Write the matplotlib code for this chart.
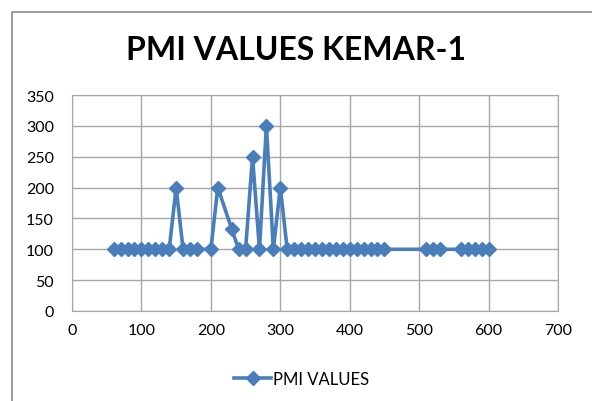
import matplotlib.pyplot as plt
import matplotlib.patches as mpatches

# data
x_vals = [60, 70, 80, 90, 100, 110, 120, 130, 140, 150,
          160, 170, 180, 200, 210, 230, 240, 250, 260, 270,
          280, 290, 300, 310, 320, 330, 340, 350, 360, 370,
          380, 390, 400, 410, 420, 430, 440, 450, 510, 520,
          530, 560, 570, 580, 590, 600]
pmi_vals = [100, 100, 100, 100, 100, 100, 100, 100, 100, 200,
            100, 100, 100, 100, 200, 133, 100, 100, 250, 100,
            300, 100, 200, 100, 100, 100, 100, 100, 100, 100,
            100, 100, 100, 100, 100, 100, 100, 100, 100, 100,
            100, 100, 100, 100, 100, 100]
x_ticks = [0, 100, 200, 300, 400, 500, 600, 700]
y_ticks = [0, 50, 100, 150, 200, 250, 300, 350]

plt.rcParams['font.family'] = ['Lato', 'DejaVu Sans']

fig = plt.figure(figsize=(5.92, 4.02), dpi=100)

# outer chart border
fig.patches.append(mpatches.Rectangle((12 / 592, -0.05), 1.0, 1 - 13 / 402 + 0.05,
                                      transform=fig.transFigure, fill=False,
                                      edgecolor='#8c8c8c', linewidth=1.2))

ax = fig.add_axes([72 / 592, 90 / 402, 486 / 592, 216 / 402])
line_color = '#4A7EBB'
ax.plot(x_vals, pmi_vals, color=line_color, linewidth=2.6, marker='D',
        markersize=7.5, label='PMI VALUES', zorder=3)

ax.set_xlim(0, 700)
ax.set_ylim(0, 350)
ax.set_xticks(x_ticks)
ax.set_yticks(y_ticks)
ax.grid(True, color='#a6a6a6', linewidth=1)
ax.set_axisbelow(True)
for s in ax.spines.values():
    s.set_color('#a6a6a6')
ax.tick_params(length=0, labelsize=11.5, pad=9)
ax.tick_params(axis='y', pad=13)

fig.text(0.5, 1 - 50 / 402, 'PMI VALUES KEMAR-1', ha='center', va='center',
         fontsize=23, fontweight='bold')

fig.legend(loc='center', bbox_to_anchor=(0.51, 1 - 380 / 402), frameon=False,
           fontsize=12, handlelength=2.2, handletextpad=0.15)

fig.savefig('out.png', dpi=100)
